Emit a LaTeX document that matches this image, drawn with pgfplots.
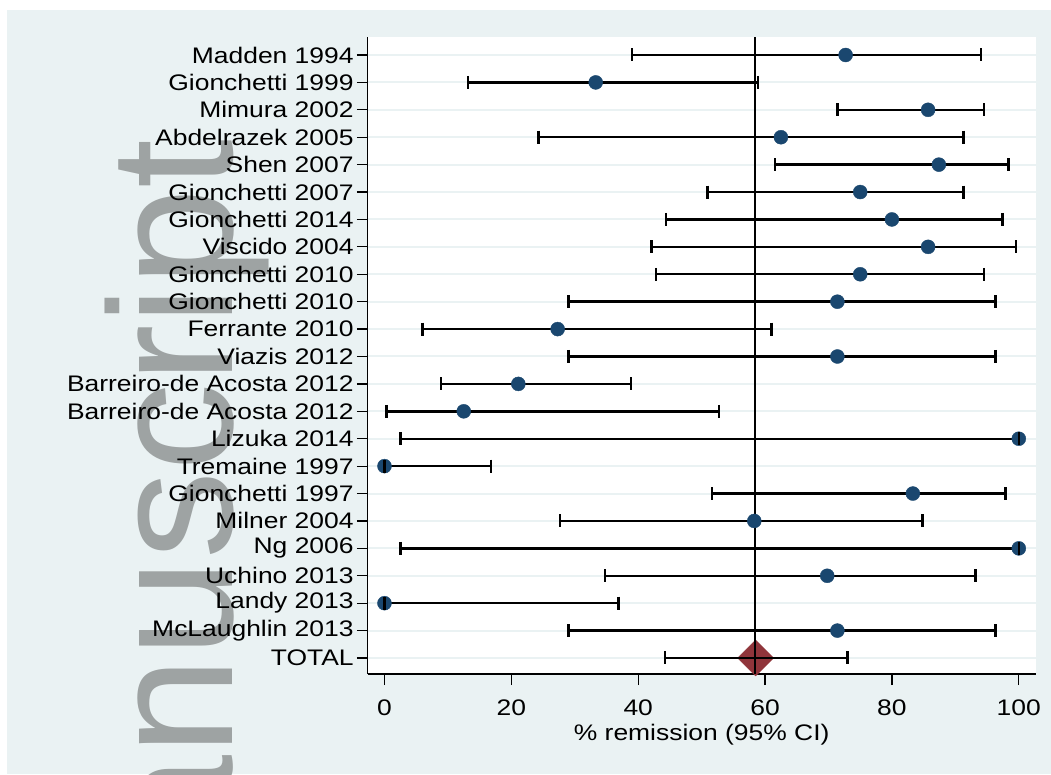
\documentclass[border=0pt]{standalone}
\usepackage{fontspec}
\usepackage{pgfplots}
\usepackage{pgfplotstable}
\pgfplotsset{compat=1.18}
\usetikzlibrary{backgrounds}
\newfontfamily\chartfont[FakeStretch=1.175]{Liberation Sans}
\newfontfamily\wmfont{Liberation Sans}
\definecolor{bgc}{RGB}{234,242,243}
\definecolor{navy}{RGB}{26,71,111}
\definecolor{maroon}{RGB}{144,53,59}
\definecolor{wmc}{RGB}{158,163,163}

\pgfplotstableread{
row pt lo hi
23 72.7 39.0 94.0
22 33.3 13.2 58.9
21 85.7 71.4 94.5
20 62.5 24.3 91.3
19 87.4 61.6 98.4
18 75.0 50.9 91.3
17 80.0 44.4 97.4
16 85.7 42.1 99.6
15 75.0 42.8 94.5
14 71.4 29.0 96.3
13 27.3 6.0 61.0
12 71.4 29.0 96.3
11 21.1 8.9 38.9
10 12.5 0.3 52.7
9 100.0 2.5 100.0
8 0.0 0.0 16.8
7 83.3 51.6 97.9
6 58.3 27.7 84.8
5 100.0 2.5 100.0
4 69.8 34.8 93.2
3 0.0 0.0 36.9
2 71.4 29.0 96.3
}\studies

\pgfplotstableread{
row pt lo hi
1 58.5 44.2 73.0
}\total

\begin{document}
\begin{tikzpicture}
\begin{axis}[
  at={(0,0)}, anchor=south west,
  scale only axis,
  width=667.8pt, height=636.7pt,
  xmin=-2.63, xmax=102.65,
  ymin=0.416, ymax=23.646,
  axis background/.style={fill=white},
  axis x line*=bottom, axis y line*=left,
  axis line style={-, black, line width=1.3pt},
  tick align=outside,
  major tick length=11pt,
  tick style={black, line width=1.2pt},
  xtick={0,20,40,60,80,100},
  ytick={1,...,23},
  yticklabels={TOTAL, McLaughlin 2013, Landy 2013, Uchino 2013, Ng 2006, Milner 2004, Gionchetti 1997, Tremaine 1997, Lizuka 2014, Barreiro-de Acosta 2012, Barreiro-de Acosta 2012, Viazis 2012, Ferrante 2010, Gionchetti 2010, Gionchetti 2010, Viscido 2004, Gionchetti 2014, Gionchetti 2007, Shen 2007, Abdelrazek 2005, Mimura 2002, Gionchetti 1999, Madden 1994},
  /pgf/number format/assume math mode=true,
  ticklabel style={font=\chartfont\fontsize{22.5}{26}\selectfont, text=black},
  xticklabel style={inner sep=0pt, yshift=-15pt},
  yticklabel style={inner sep=0pt, xshift=-3pt},
  ymajorgrids,
  major grid style={draw=bgc, line width=2pt},
  xlabel={\% remission (95\% CI)},
  xlabel style={font=\chartfont\fontsize{22.5}{26}\selectfont, at={(axis description cs:0.5,0)}, anchor=base, yshift=-66pt, inner sep=0pt},
  clip=false,
  clip marker paths=true,
]
% pooled diamond
\addplot[only marks, mark=square*, mark size=12.7pt, mark options={rotate=45, fill=maroon, draw=maroon}] table[x=pt, y=row] {\total};
% CI lines
\addplot[draw=none, mark=none, error bars/.cd, x dir=both, x explicit, error mark=none, error bar style={draw=black, line width=2.4pt}]
  table[x=pt, y=row, x error plus expr=\thisrow{hi}-\thisrow{pt}, x error minus expr=\thisrow{pt}-\thisrow{lo}] {\studies};
\addplot[draw=none, mark=none, error bars/.cd, x dir=both, x explicit, error mark=none, error bar style={draw=black, line width=2.4pt}]
  table[x=pt, y=row, x error plus expr=\thisrow{hi}-\thisrow{pt}, x error minus expr=\thisrow{pt}-\thisrow{lo}] {\total};
% reference line
\addplot[black, line width=2.2pt, mark=none] coordinates {(58.4,0.416) (58.4,23.646)};
% study estimates
\addplot[only marks, mark=*, mark size=7pt, mark options={fill=navy, draw=navy}] table[x=pt, y=row] {\studies};
% caps
\addplot[only marks, mark=|, mark size=6.5pt, mark options={line width=2.4pt, black}] table[x=lo, y=row] {\studies};
\addplot[only marks, mark=|, mark size=6.5pt, mark options={line width=2.4pt, black}] table[x=hi, y=row] {\studies};
\addplot[only marks, mark=|, mark size=6.5pt, mark options={line width=2.4pt, black}] table[x=lo, y=row] {\total};
\addplot[only marks, mark=|, mark size=6.5pt, mark options={line width=2.4pt, black}] table[x=hi, y=row] {\total};
\end{axis}
\begin{scope}[on background layer]
\fill[white] (-367.8pt,-100pt) rectangle (683.2pt,674pt);
\fill[bgc] (-360.8pt,-100pt) rectangle (683.2pt,664pt);
\begin{scope}
\clip (-360.8pt,-100pt) rectangle (683.2pt,664pt);
\node[rotate=90, anchor=base east, inner sep=0pt, text=wmc, font={\wmfont\fontsize{176}{176}\selectfont}] at (-134.8pt,535pt) {Author Manuscript};
\end{scope}
\end{scope}
\pgfresetboundingbox
\useasboundingbox (-367.8pt,-100pt) rectangle (683.2pt,674pt);
\end{tikzpicture}
\end{document}
